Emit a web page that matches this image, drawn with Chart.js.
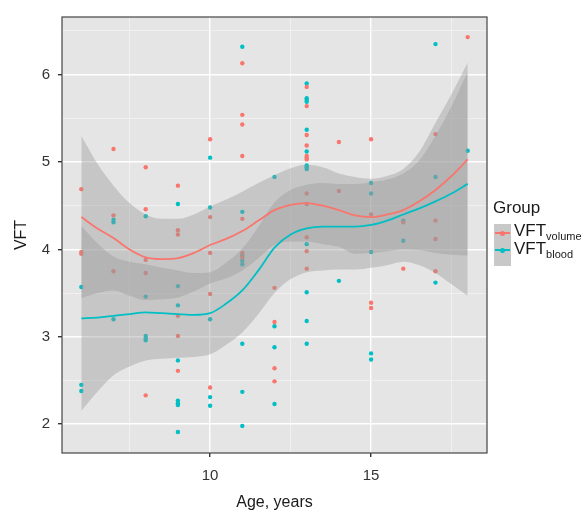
<!DOCTYPE html>
<html>
<head>
<meta charset="utf-8">
<script src="https://cdn.jsdelivr.net/npm/chart.js@4.4.1/dist/chart.umd.min.js"></script>
<style>
  html, body { margin: 0; padding: 0; background: #fff; }
  #wrap { position: relative; width: 585px; height: 515px; }
  #chart { position: absolute; left: 0; top: 0; }
  .lg { position: absolute; font-family: "Liberation Sans", Arial, sans-serif; color: #1a1a1a; white-space: nowrap; }
  .lg sub { font-size: 11px; vertical-align: baseline; position: relative; top: 4px; }
  .keybg { position: absolute; background: #c8c8c8; }
  .keyline { position: absolute; height: 2px; }
  .keydot { position: absolute; width: 5px; height: 5px; border-radius: 50%; }
</style>
</head>
<body>
<div id="wrap">
  <canvas id="chart" width="585" height="515"></canvas>
  <div class="lg" style="left:493px; top:198px; font-size:17px;">Group</div>
  <div class="keybg" style="left:494px; top:224px; width:17px; height:42px;"></div>
  <div class="keyline" style="left:495px; top:232px; width:15px; background:#F8766D;"></div>
  <div class="keydot" style="left:500px; top:230.5px; background:#F8766D;"></div>
  <div class="keyline" style="left:495px; top:249px; width:15px; background:#00BFC4;"></div>
  <div class="keydot" style="left:500px; top:247.5px; background:#00BFC4;"></div>
  <div class="lg" style="left:514px; top:221px; font-size:17px;">VFT<sub>volume</sub></div>
  <div class="lg" style="left:514px; top:239px; font-size:17px;">VFT<sub>blood</sub></div>
</div>
<script>
// ---- Scatter data (Age, VFT) ----
const volumeAge = [6,6,6, 7,7,7, 8,8,8,8,8, 9,9,9,9,9,9, 10,10,10,10,10, 11,11,11,11,11,11,11, 12,12,12,12,
  13,13,13,13,13,13,13,13,13,13,13,13, 14,14, 15,15,15,15, 16,16, 17,17,17,17, 18];
const volumeVFT = [4.69,3.97,3.95, 5.15,4.39,3.75, 4.94,4.46,3.88,3.73,2.33, 4.73,4.22,4.17,3.24,3.01,2.61,
  5.26,4.37,3.96,3.49,2.42, 6.13,5.54,5.43,5.07,4.35,3.96,3.91, 3.56,3.17,2.64,2.49,
  5.86,5.64,5.31,5.19,5.07,5.05,5.03,4.64,4.52,4.14,3.98,3.78, 5.23,4.67, 5.26,4.40,3.39,3.33,
  4.31,3.78, 5.32,4.33,4.12,3.75, 6.43];

const bloodAge = [6,6,6, 7,7,7, 8,8,8,8,8, 9,9,9,9,9,9,9,9, 10,10,10,10,10, 11,11,11,11,11,11,11,11,
  12,12,12,12, 13,13,13,13,13,13,13,13,13,13,13,13,13, 14, 15,15,15,15,15, 16,16, 17,17,17, 18];
const bloodVFT = [3.57,2.45,2.38, 4.34,4.31,3.20, 4.38,3.46,3.01,2.98,2.96, 4.52,3.58,3.36,2.73,2.27,2.24,2.22,1.91,
  5.05,4.48,3.20,2.31,2.21, 6.32,4.43,3.93,3.87,3.83,2.92,2.37,1.98, 4.83,3.12,2.88,2.23,
  5.90,5.73,5.71,5.69,5.37,5.12,4.96,4.94,4.92,4.06,3.51,3.18,2.92, 3.64, 4.76,4.64,3.97,2.81,2.74,
  4.33,4.10, 6.35,4.83,3.62, 5.13];

// ---- Smoothed fits and confidence bands ----
const fitAge = [6,6.5,7,7.5,8,8.5,9,9.5,10,10.5,11,11.5,12,12.5,13,13.5,14,14.5,15,15.5,16,16.5,17,17.5,18];
const volumeFit   = [4.37,4.24,4.13,4.00,3.91,3.89,3.90,3.96,4.05,4.12,4.21,4.33,4.45,4.51,4.53,4.50,4.45,4.39,4.37,4.40,4.45,4.55,4.68,4.84,5.03];
const volumeUpper = [5.30,4.98,4.73,4.53,4.40,4.35,4.35,4.40,4.49,4.57,4.66,4.76,4.85,4.93,4.97,4.94,4.87,4.83,4.81,4.84,4.92,5.12,5.45,5.78,6.14];
const volumeLower = [3.44,3.50,3.53,3.47,3.42,3.43,3.45,3.52,3.61,3.67,3.76,3.90,4.05,4.09,4.09,4.06,4.03,3.95,3.96,3.98,4.00,3.99,3.96,3.94,3.93];
const bloodFit    = [3.21,3.22,3.24,3.26,3.28,3.27,3.26,3.25,3.27,3.38,3.53,3.76,4.02,4.17,4.24,4.26,4.26,4.26,4.28,4.33,4.40,4.47,4.55,4.64,4.75];
const bloodUpper  = [4.27,4.07,3.92,3.86,3.83,3.79,3.76,3.73,3.74,3.85,4.01,4.26,4.54,4.68,4.74,4.76,4.75,4.75,4.77,4.80,4.87,5.02,5.30,5.64,6.03];
const bloodLower  = [2.15,2.37,2.56,2.66,2.73,2.75,2.76,2.77,2.80,2.91,3.05,3.26,3.50,3.66,3.74,3.76,3.77,3.77,3.79,3.82,3.86,3.82,3.73,3.60,3.47];

// ---- Axis ticks ----
const xMajorTicks = [10, 15];
const xMinorTicks = [7.5, 12.5, 17.5];
const yMajorTicks = [2, 3, 4, 5, 6];
const yMinorTicks = [2.5, 3.5, 4.5, 5.5, 6.5];

const RED = '#F8766D', TEAL = '#00BFC4';
const BAND = 'rgba(153,153,153,0.4)';
const FONT = '"Liberation Sans", Arial, sans-serif';

const pts = (xs, ys) => xs.map((x, i) => ({ x: x, y: ys[i] }));

const panelPlugin = {
  id: 'panel',
  beforeDraw(chart) {
    const { ctx, chartArea: a } = chart;
    ctx.save();
    ctx.fillStyle = '#E5E5E5';
    ctx.fillRect(a.left, a.top, a.right - a.left, a.bottom - a.top);
    ctx.restore();
  },
  afterDraw(chart) {
    const { ctx, chartArea: a } = chart;
    ctx.save();
    ctx.strokeStyle = '#444';
    ctx.lineWidth = 1.2;
    ctx.strokeRect(a.left, a.top, a.right - a.left, a.bottom - a.top);
    ctx.restore();
  }
};

function isMajor(ctx, majors) {
  return ctx.tick && majors.includes(ctx.tick.value);
}

new Chart(document.getElementById('chart'), {
  type: 'scatter',
  data: {
    datasets: [
      { label: 'VFTvolume points', data: pts(volumeAge, volumeVFT), backgroundColor: RED, borderWidth: 0, pointRadius: 2.2, order: 10 },
      { label: 'VFTblood points', data: pts(bloodAge, bloodVFT), backgroundColor: TEAL, borderWidth: 0, pointRadius: 2.2, order: 10 },
      { label: 'vol upper', data: pts(fitAge, volumeUpper), showLine: true, borderWidth: 0, pointRadius: 0,
        cubicInterpolationMode: 'monotone', backgroundColor: BAND, fill: { target: 3 }, order: 5 },
      { label: 'vol lower', data: pts(fitAge, volumeLower), showLine: true, borderWidth: 0, pointRadius: 0,
        cubicInterpolationMode: 'monotone', fill: false, order: 5 },
      { label: 'blood upper', data: pts(fitAge, bloodUpper), showLine: true, borderWidth: 0, pointRadius: 0,
        cubicInterpolationMode: 'monotone', backgroundColor: BAND, fill: { target: 5 }, order: 5 },
      { label: 'blood lower', data: pts(fitAge, bloodLower), showLine: true, borderWidth: 0, pointRadius: 0,
        cubicInterpolationMode: 'monotone', fill: false, order: 5 },
      { label: 'VFTvolume', data: pts(fitAge, volumeFit), showLine: true, borderColor: RED, borderWidth: 1.8,
        pointRadius: 0, cubicInterpolationMode: 'monotone', fill: false, order: 1 },
      { label: 'VFTblood', data: pts(fitAge, bloodFit), showLine: true, borderColor: TEAL, borderWidth: 1.8,
        pointRadius: 0, cubicInterpolationMode: 'monotone', fill: false, order: 1 }
    ]
  },
  options: {
    responsive: false,
    animation: false,
    devicePixelRatio: 1,
    layout: { padding: { top: 13, right: 98, left: 0, bottom: 0 } },
    plugins: { legend: { display: false }, tooltip: { enabled: false } },
    scales: {
      x: {
        type: 'linear', min: 5.4, max: 18.6,
        afterBuildTicks: s => { s.ticks = xMinorTicks.concat(xMajorTicks).sort((a, b) => a - b).map(v => ({ value: v })); },
        afterFit: s => { s.height = 62; },
        border: { display: false },
        grid: {
          color: c => isMajor(c, xMajorTicks) ? '#FFFFFF' : '#F2F2F2',
          lineWidth: c => isMajor(c, xMajorTicks) ? 1.4 : 0.8,
          tickColor: c => isMajor(c, xMajorTicks) ? '#333333' : 'rgba(0,0,0,0)',
          tickLength: 4, drawTicks: true
        },
        ticks: {
          autoSkip: false, maxRotation: 0, padding: 10, color: '#333',
          font: { family: FONT, size: 15 },
          callback: v => xMajorTicks.includes(v) ? String(v) : ''
        },
        title: { display: true, text: 'Age, years', color: '#1a1a1a', font: { family: FONT, size: 16 }, padding: { top: 0, bottom: 3 } }
      },
      y: {
        type: 'linear', min: 1.67, max: 6.66,
        afterBuildTicks: s => { s.ticks = yMinorTicks.concat(yMajorTicks).sort((a, b) => a - b).map(v => ({ value: v })); },
        afterFit: s => { s.width = 62; },
        border: { display: false },
        grid: {
          color: c => isMajor(c, yMajorTicks) ? '#FFFFFF' : '#F2F2F2',
          lineWidth: c => isMajor(c, yMajorTicks) ? 1.4 : 0.8,
          tickColor: c => isMajor(c, yMajorTicks) ? '#333333' : 'rgba(0,0,0,0)',
          tickLength: 4, drawTicks: true
        },
        ticks: {
          autoSkip: false, padding: 8, color: '#333',
          font: { family: FONT, size: 15 },
          callback: v => yMajorTicks.includes(v) ? String(v) : ''
        },
        title: { display: true, text: 'VFT', color: '#1a1a1a', font: { family: FONT, size: 16 }, padding: { top: 12, bottom: 0 } }
      }
    }
  },
  plugins: [panelPlugin]
});
</script>
</body>
</html>
